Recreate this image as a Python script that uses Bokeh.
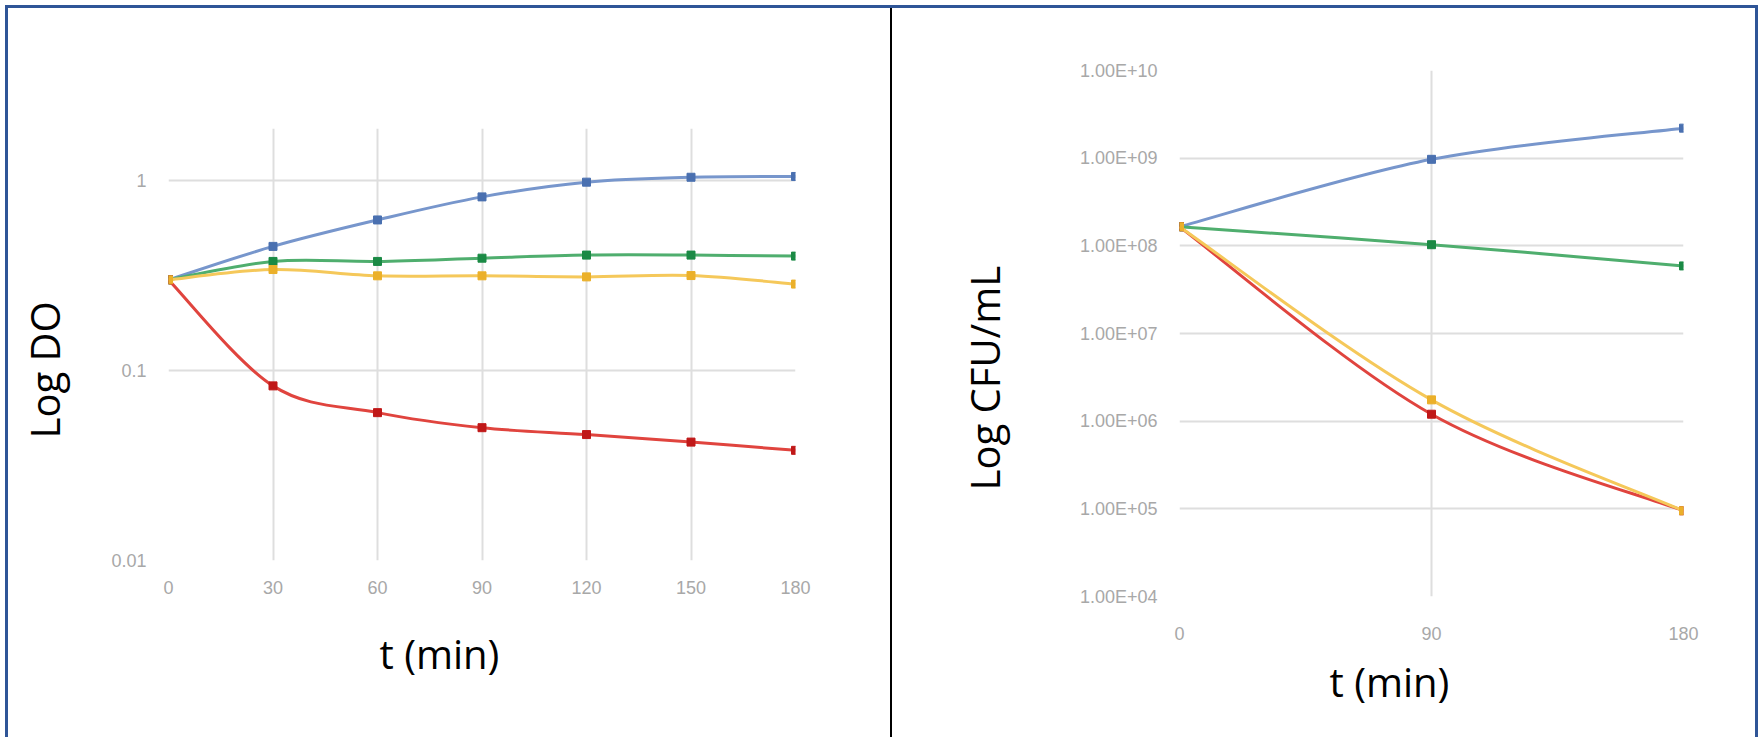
import math
from bokeh.plotting import figure
from bokeh.layouts import row
from bokeh.models import FixedTicker, Title, LinearAxis
from bokeh.embed import file_html
from bokeh.resources import INLINE

# ---------------- data: left chart (optical density, log scale) ----------------
t_do = [0, 30, 60, 90, 120, 150, 180]
do_blue = [0.30, 0.45, 0.62, 0.82, 0.98, 1.04, 1.05]
do_green = [0.30, 0.375, 0.375, 0.39, 0.405, 0.405, 0.40]
do_yellow = [0.30, 0.34, 0.315, 0.315, 0.311, 0.316, 0.285]
do_red = [0.30, 0.083, 0.060, 0.050, 0.046, 0.042, 0.038]
do_y_ticks = [0.01, 0.1, 1]
do_y_tick_labels = ["0.01", "0.1", "1"]
do_x_ticks = [0, 30, 60, 90, 120, 150, 180]

# ---------------- data: right chart (CFU/mL, log scale) ----------------
t_cfu = [0, 90, 180]
cfu_blue = [1.65e8, 9.7e8, 2.2e9]
cfu_green = [1.65e8, 1.03e8, 5.9e7]
cfu_red = [1.65e8, 1.2e6, 9.5e4]
cfu_yellow = [1.65e8, 1.75e6, 9.5e4]
cfu_y_ticks = [1e4, 1e5, 1e6, 1e7, 1e8, 1e9, 1e10]
cfu_y_tick_labels = ["1.00E+04", "1.00E+05", "1.00E+06", "1.00E+07",
                     "1.00E+08", "1.00E+09", "1.00E+10"]
cfu_x_ticks = [0, 90, 180]

# ---------------- styles ----------------
SERIES = [  # (line colour, marker colour)
    ("#7796CC", "#4A70B0"),   # blue
    ("#4FAE6E", "#1B8A45"),   # green
    ("#E0443E", "#C01818"),   # red
    ("#F5C85A", "#EBB02A"),   # yellow
]
GRID = "#DEDEDE"
TICK_COLOR = "#A8A8A8"
TITLE_FONT = "Open Sans"
TITLE_SIZE = "40px"
BORDER = "#2F5597"


def base_fig(width, height, x_end, y_range, mbl, mbr, mbt, mbb,
             x_ticks, y_ticks, y_labels, x_stand, y_stand):
    p = figure(width=width, height=height, x_range=(0, x_end), y_range=y_range,
               y_axis_type="log", output_backend="svg", toolbar_location=None,
               min_border_left=mbl, min_border_right=mbr,
               min_border_top=mbt, min_border_bottom=mbb)
    p.frame_align = False
    p.outline_line_color = None
    p.background_fill_color = "white"
    p.border_fill_color = "white"
    p.xaxis.ticker = FixedTicker(ticks=x_ticks)
    p.yaxis.ticker = FixedTicker(ticks=y_ticks)
    p.xgrid.ticker = FixedTicker(ticks=x_ticks)
    p.ygrid.ticker = FixedTicker(ticks=y_ticks)
    p.yaxis.major_label_overrides = dict(zip(y_ticks, y_labels))
    for g in (p.xgrid, p.ygrid):
        g.grid_line_color = GRID
        g.grid_line_width = 2
        g.minor_grid_line_color = None
    for ax in (p.xaxis, p.yaxis):
        ax.axis_line_color = None
        ax.major_tick_line_color = None
        ax.minor_tick_line_color = None
        ax.major_tick_out = 0
        ax.major_tick_in = 0
        ax.minor_tick_out = 0
        ax.minor_tick_in = 0
        ax.major_label_text_color = TICK_COLOR
        ax.major_label_text_font = "Liberation Sans"
        ax.major_label_text_font_size = "18px"
    p.xaxis.major_label_standoff = x_stand
    p.yaxis.major_label_standoff = y_stand
    return p


def smooth_segments(x, y):
    """Excel-style smoothed line: cubic Bezier segments through the data
    points (control points from neighbouring points, in log-y space)."""
    ly = [math.log10(v) for v in y]
    n = len(x)
    seg = {k: [] for k in ("x0", "y0", "x1", "y1", "cx0", "cy0", "cx1", "cy1")}
    for i in range(n - 1):
        xm, ym = (x[i - 1], ly[i - 1]) if i > 0 else (x[i], ly[i])
        xp, yp = (x[i + 2], ly[i + 2]) if i + 2 < n else (x[i + 1], ly[i + 1])
        seg["x0"].append(x[i])
        seg["y0"].append(y[i])
        seg["x1"].append(x[i + 1])
        seg["y1"].append(y[i + 1])
        seg["cx0"].append(x[i] + (x[i + 1] - xm) / 6)
        seg["cy0"].append(10 ** (ly[i] + (ly[i + 1] - ym) / 6))
        seg["cx1"].append(x[i + 1] - (xp - x[i]) / 6)
        seg["cy1"].append(10 ** (ly[i + 1] - (yp - ly[i]) / 6))
    return seg


def add_series(p, x, series):
    for (lc, mc), ys in zip(SERIES, series):
        p.bezier(line_color=lc, line_width=3, **smooth_segments(x, ys))
        p.scatter(x, ys, marker="square", size=8, fill_color=mc, line_color=mc)


def spacer(width, tick):
    # blank axis (one white, unlabeled tick) that only reserves room
    # between the tick labels and the vertical title
    return LinearAxis(ticker=FixedTicker(ticks=[tick]), major_tick_out=width,
                      major_tick_in=0, minor_tick_out=0, minor_tick_in=0,
                      axis_line_color=None, major_tick_line_color="white",
                      major_label_standoff=0, major_label_text_font_size="1px",
                      major_label_overrides={tick: ""})


def title(text, offset, standoff):
    return Title(text=text, align="left", offset=offset, standoff=standoff,
                 text_font=TITLE_FONT, text_font_size=TITLE_SIZE,
                 text_font_style="normal", text_color="black")


# ---------------- left chart ----------------
p1 = base_fig(884, 729, 180, (0.01, 1.878), 160, 97, 120, 177,
              do_x_ticks, do_y_ticks, do_y_tick_labels, 20, 22)
add_series(p1, t_do, [do_blue, do_green, do_red, do_yellow])
p1.add_layout(title("t (min)", 211, 54), "below")
p1.add_layout(spacer(37, 0.3), "left")
p1.add_layout(title("Log DO", 122, 0), "left")

# ---------------- right chart ----------------
p2 = base_fig(863, 729, 180, (1e4, 1e10), 287, 72, 62, 141,
              cfu_x_ticks, cfu_y_ticks, cfu_y_tick_labels, 30, 22)
add_series(p2, t_cfu, [cfu_blue, cfu_green, cfu_red, cfu_yellow])
p2.add_layout(title("t (min)", 150, 18), "below")
p2.add_layout(spacer(65, 3e9), "left")
p2.add_layout(title("Log CFU/mL", 106, 0), "left")
p2.styles = {"box-shadow": "-2px 0 0 0 #000000"}

layout = row(p1, p2, spacing=0)
layout.margin = (8, 0, 0, 8)
layout.styles = {
    "box-shadow": (f"-3px 0 0 0 {BORDER}, 3px 0 0 0 {BORDER}, 0 -3px 0 0 {BORDER}, "
                   f"-3px -3px 0 0 {BORDER}, 3px -3px 0 0 {BORDER}")
}

open("out.html", "w").write(file_html(layout, INLINE))
